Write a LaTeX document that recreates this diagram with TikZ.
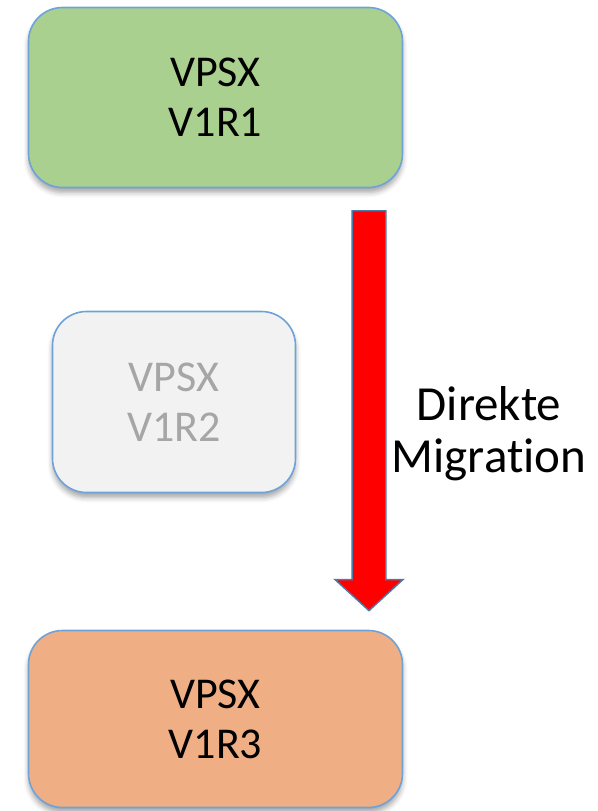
\documentclass[tikz,border=0pt]{standalone}
\usepackage{fontspec}
\setmainfont{Carlito}[Ligatures=NoCommon]
\usetikzlibrary{shapes.arrows,shadows.blur}
\definecolor{boxblue}{HTML}{6FA3D8}
\definecolor{greenfill}{HTML}{A9D08E}
\definecolor{greyfill}{HTML}{F2F2F2}
\definecolor{orangefill}{HTML}{F0AE84}
\definecolor{greytext}{HTML}{A6A6A6}
\definecolor{arrowedge}{HTML}{4A7BAA}
\tikzset{
  vbox/.style={rectangle, rounded corners=34pt, draw=boxblue, line width=1.6pt,
    align=center, font=\fontsize{44}{50}\selectfont, inner sep=0pt,
    blur shadow={shadow xshift=0pt, shadow yshift=-5pt, shadow blur radius=5pt, shadow opacity=35}},
  lbl/.style={align=center, font=\fontsize{49}{52}\selectfont, inner sep=0pt},
}
\begin{document}
\begin{tikzpicture}[x=1pt,y=-1pt]
\useasboundingbox (0,0) rectangle (597,811);
\node[vbox, fill=greenfill, minimum width=374pt, minimum height=180pt] (v1) at (215.5,97.5) {VPSX\\V1R1};
\node[vbox, fill=greyfill, text=greytext, minimum width=243pt, minimum height=181pt] (v2) at (174,402) {VPSX\\V1R2};
\node[vbox, fill=orangefill, minimum width=374pt, minimum height=177pt] (v3) at (215.5,719) {VPSX\\V1R3};
\node[single arrow, shape border rotate=270, fill=red, draw=arrowedge, line width=1.4pt,
  minimum height=400pt, minimum width=68pt, inner xsep=0pt, inner ysep=0pt, text width=32pt,
  single arrow head extend=17pt, single arrow tip angle=95] (mig) at (369,403) {};
\node[lbl] (txt) at (489,434) {Direkte\\Migration};
\end{tikzpicture}
\end{document}
